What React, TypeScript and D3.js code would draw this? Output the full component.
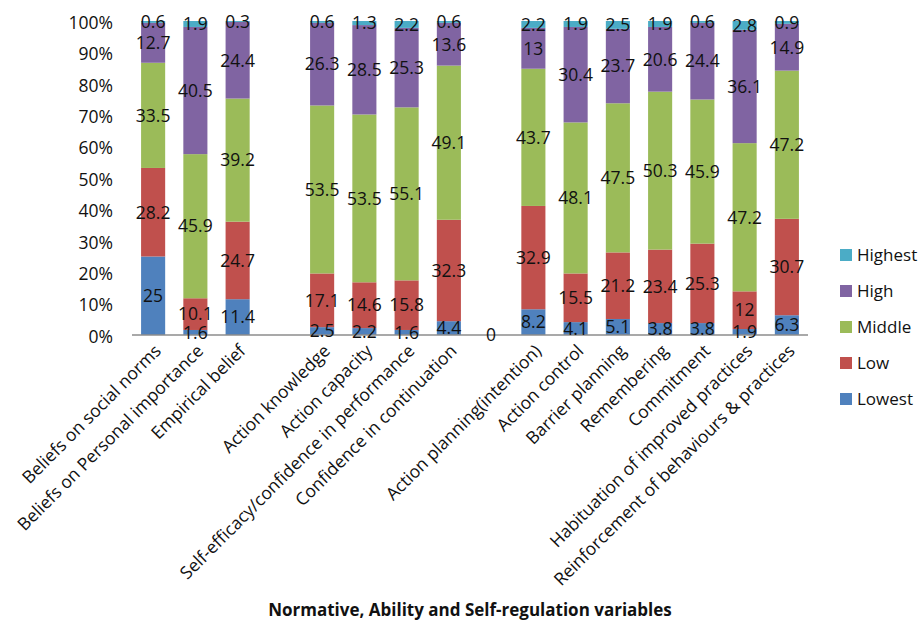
import React from "react";
import * as d3 from "d3";

// Response levels per variable (percent of respondents)
const categories = [
  "Beliefs on social norms",
  "Beliefs on Personal importance",
  "Empirical belief",
  "",
  "Action knowledge",
  "Action capacity",
  "Self-efficacy/confidence in performance",
  "Confidence in continuation",
  "",
  "Action planning(intention)",
  "Action control",
  "Barrier planning",
  "Remembering",
  "Commitment",
  "Habituation of improved practices",
  "Reinforcement of behaviours & practices",
];

const lowest = [25, 1.6, 11.4, null, 2.5, 2.2, 1.6, 4.4, 0, 8.2, 4.1, 5.1, 3.8, 3.8, 1.9, 6.3];
const low = [28.2, 10.1, 24.7, null, 17.1, 14.6, 15.8, 32.3, null, 32.9, 15.5, 21.2, 23.4, 25.3, 12, 30.7];
const middle = [33.5, 45.9, 39.2, null, 53.5, 53.5, 55.1, 49.1, null, 43.7, 48.1, 47.5, 50.3, 45.9, 47.2, 47.2];
const high = [12.7, 40.5, 24.4, null, 26.3, 28.5, 25.3, 13.6, null, 13, 30.4, 23.7, 20.6, 24.4, 36.1, 14.9];
const highest = [0.6, 1.9, 0.3, null, 0.6, 1.3, 2.2, 0.6, null, 2.2, 1.9, 2.5, 1.9, 0.6, 2.8, 0.9];

const seriesNames = ["Lowest", "Low", "Middle", "High", "Highest"];
const seriesColors = ["#4F81BD", "#C0504D", "#9BBB59", "#8064A2", "#4BACC6"];
const yTicks = [0, 0.1, 0.2, 0.3, 0.4, 0.5, 0.6, 0.7, 0.8, 0.9, 1];
const xTitle = "Normative, Ability and Self-regulation variables";

const W = 921;
const H = 631;
const FONT = "'Open Sans', 'DejaVu Sans', sans-serif";
const FS = 17.5;

export default function App() {
  const series = [lowest, low, middle, high, highest];
  const x = d3
    .scaleBand<number>()
    .domain(categories.map((_, i) => i))
    .range([132, 808])
    .paddingInner(0.43)
    .paddingOuter(0.215);
  const y = d3.scaleLinear().domain([0, 1]).range([335, 21]);

  const segments: { i: number; s: number; v: number; y0: number; y1: number }[] = [];
  categories.forEach((_, i) => {
    const vals = series.map((arr) => arr[i]);
    const total = d3.sum(vals.map((v) => (v == null ? 0 : v)));
    let acc = 0;
    vals.forEach((v, s) => {
      if (v == null) return;
      const frac = total > 0 ? v / total : 0;
      segments.push({ i, s, v, y0: acc, y1: acc + frac });
      acc += frac;
    });
  });

  const axisY = y(0);

  return (
    <svg
      width={W}
      height={H}
      style={{ position: "absolute", left: 0, top: 0, display: "block", background: "#fff" }}
      fontFamily={FONT}
    >
      {/* stacked bars */}
      {segments.map((d, k) =>
        d.y1 > d.y0 ? (
          <rect
            key={"r" + k}
            x={x(d.i)!}
            width={x.bandwidth()}
            y={y(d.y1)}
            height={y(d.y0) - y(d.y1)}
            fill={seriesColors[d.s]}
          />
        ) : null
      )}

      {/* category axis line */}
      <line x1={132} x2={808} y1={axisY} y2={axisY} stroke="#8c8c8c" strokeWidth={1.5} />

      {/* value labels */}
      {segments.map((d, k) => (
        <text
          key={"t" + k}
          x={x(d.i)! + x.bandwidth() / 2}
          y={y((d.y0 + d.y1) / 2)}
          dy="0.36em"
          textAnchor="middle"
          fontSize={FS}
          fill="#111"
        >
          {d.v}
        </text>
      ))}

      {/* y axis labels */}
      {yTicks.map((t) => (
        <text
          key={"y" + t}
          x={113}
          y={y(t) + 1.5}
          dy="0.36em"
          textAnchor="end"
          fontSize={FS}
          fill="#111"
        >
          {d3.format(".0%")(t)}
        </text>
      ))}

      {/* category labels */}
      {categories.map((c, i) =>
        c ? (
          <text
            key={"c" + i}
            transform={`translate(${x(i)! + x.bandwidth() / 2 + 9},${axisY + 17}) rotate(-45)`}
            textAnchor="end"
            fontSize={FS}
            fill="#111"
          >
            {c}
          </text>
        ) : null
      )}

      {/* x axis title */}
      <text x={470} y={616} textAnchor="middle" fontSize={17} fontWeight="bold" fill="#111">
        {xTitle}
      </text>

      {/* legend */}
      {seriesNames
        .map((n, s) => ({ n, s }))
        .reverse()
        .map((d, k) => (
          <g key={"l" + d.n} transform={`translate(840,${255 + k * 36})`}>
            <rect x={0} y={-6} width={12} height={12} fill={seriesColors[d.s]} />
            <text x={17} y={0} dy="0.36em" fontSize={17} fill="#111">
              {d.n}
            </text>
          </g>
        ))}
    </svg>
  );
}
